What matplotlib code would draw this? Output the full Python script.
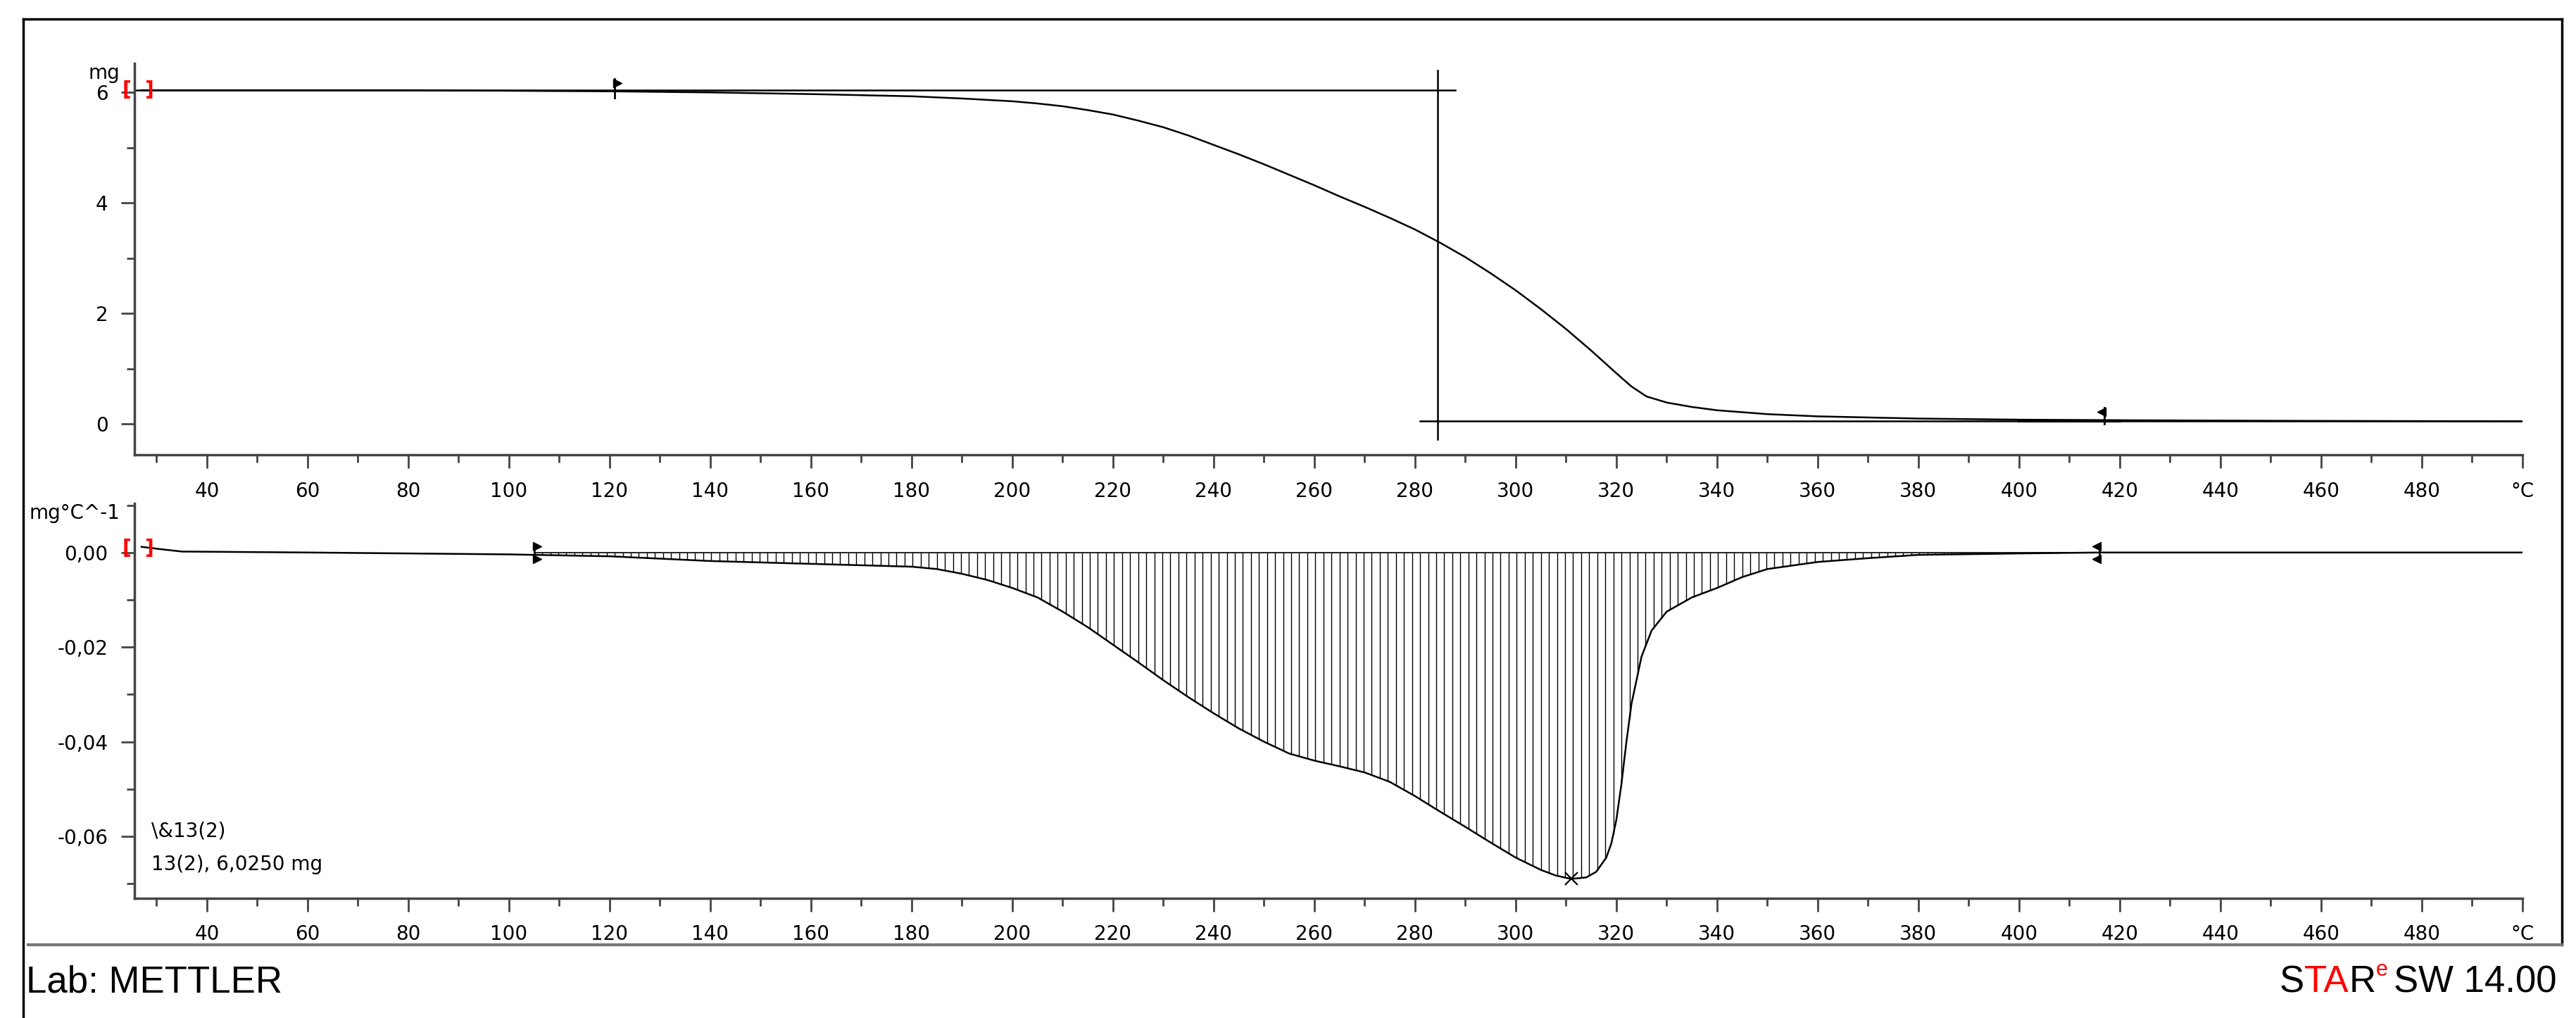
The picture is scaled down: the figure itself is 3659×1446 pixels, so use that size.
import numpy as np
import matplotlib.pyplot as plt
from matplotlib.ticker import MultipleLocator, FixedLocator, FuncFormatter
from matplotlib.lines import Line2D

# TGA curve (mg) vs temperature (°C)
tga_t = [27, 40, 60, 80, 100, 120, 140, 160, 180, 190, 200, 205, 210, 215, 220, 225, 230, 235, 240,
         245, 250, 255, 260, 265, 270, 275, 280, 285, 290, 295, 300, 305, 310, 315, 320, 323, 326,
         330, 335, 340, 350, 360, 380, 400, 420, 450, 500]
tga_m = [6.04, 6.04, 6.04, 6.04, 6.03, 6.02, 6.0, 5.97, 5.93, 5.89, 5.84, 5.80, 5.75, 5.68, 5.6,
         5.49, 5.37, 5.22, 5.05, 4.88, 4.7, 4.51, 4.32, 4.12, 3.93, 3.73, 3.52, 3.28, 3.02, 2.73,
         2.42, 2.08, 1.72, 1.33, 0.92, 0.68, 0.50, 0.39, 0.31, 0.25, 0.18, 0.14, 0.10, 0.08, 0.07,
         0.06, 0.05]

# DTG curve (mg/°C)
dtg_t = [27, 30, 35, 60, 100, 105, 120, 140, 160, 180, 185, 190, 195, 200, 205, 210, 215, 220, 225,
         230, 235, 240, 245, 250, 255, 260, 265, 270, 275, 280, 285, 290, 295, 300, 305, 308, 311,
         314, 316, 318, 319, 320, 321, 322, 323, 325, 327, 330, 335, 340, 345, 350, 360, 370, 380,
         400, 416, 450, 500]
dtg_v = [0.0012, 0.0008, 0.0002, 0.0, -0.0004, -0.0005, -0.0008, -0.0018, -0.0024, -0.003, -0.0035,
         -0.0045, -0.0058, -0.0075, -0.0095, -0.0125, -0.0158, -0.0195, -0.0232, -0.027, -0.0306,
         -0.034, -0.0372, -0.040, -0.0425, -0.0440, -0.0452, -0.0465, -0.0485, -0.0515, -0.0548,
         -0.058, -0.0613, -0.0645, -0.0671, -0.0683, -0.069, -0.0687, -0.0675, -0.0645, -0.0615,
         -0.0565, -0.049, -0.040, -0.032, -0.022, -0.0165, -0.0125, -0.0095, -0.0075, -0.0052,
         -0.0035, -0.0020, -0.0012, -0.0005, -0.0002, 0.0, 0.0, 0.0]

int_lo, int_hi = 105, 416
onset_x = 284.5
peak_x, peak_v = 311, -0.069

fig = plt.figure(figsize=(36.59, 14.46), dpi=100)
plt.rcParams['font.family'] = ['DejaVu Sans']
fs = 20
axcol = '#444444'

# outer frame
fig.add_artist(Line2D([0.009, 0.009], [0.0, 0.981], transform=fig.transFigure, color='black', lw=2.5))
fig.add_artist(Line2D([0.009, 0.9945], [0.981, 0.981], transform=fig.transFigure, color='black', lw=2.5))
fig.add_artist(Line2D([0.9945, 0.9945], [0.072, 0.981], transform=fig.transFigure, color='black', lw=2.5))
fig.add_artist(Line2D([0.011, 0.9945], [0.072, 0.072], transform=fig.transFigure, color='#777777', lw=3))

ax1 = fig.add_axes([0.0522, 0.553, 0.927, 0.385])
ax2 = fig.add_axes([0.0522, 0.1176, 0.927, 0.388])

def xlab(v, pos):
    if abs(v - 500) < 1e-6:
        return '°C'
    return '%d' % v

for ax in (ax1, ax2):
    ax.set_xlim(25.6, 500)
    for s in ('top', 'right'):
        ax.spines[s].set_visible(False)
    for s in ('left', 'bottom'):
        ax.spines[s].set_color(axcol)
        ax.spines[s].set_linewidth(2.5)
    ax.xaxis.set_major_locator(FixedLocator(list(range(40, 481, 20)) + [500]))
    ax.xaxis.set_minor_locator(MultipleLocator(10))
    ax.xaxis.set_major_formatter(FuncFormatter(xlab))
    ax.tick_params(which='major', length=14, width=2, color=axcol, labelsize=fs, pad=13)
    ax.tick_params(which='minor', length=8, width=2, color=axcol)

# TGA panel
ax1.set_ylim(-0.56, 6.53)
ax1.yaxis.set_major_locator(MultipleLocator(2))
ax1.yaxis.set_minor_locator(MultipleLocator(1))
ax1.plot(tga_t, tga_m, color='black', lw=1.8)
ax1.plot([25.6, 288], [6.04, 6.04], color='black', lw=1.8)
ax1.plot([281, 500], [0.06, 0.06], color='black', lw=1.8)
ax1.plot([onset_x, onset_x], [-0.27, 6.4], color='black', lw=1.8)
ax1.plot([121, 121], [5.9, 6.25], color='black', lw=2)
ax1.plot([121.6], [6.17], marker='>', color='black', ms=8)
ax1.plot([417, 417], [0.0, 0.3], color='black', lw=2)
ax1.plot([416.4], [0.22], marker='<', color='black', ms=8)
ax1.plot([400, 420], [0.05, 0.05], color='black', lw=3)
ax1.text(26.4, 6.04, '[  ]', color='red', fontsize=fs, fontweight='bold', va='center', ha='center')
ax1.text(-0.006, 1.0, 'mg', transform=ax1.transAxes, fontsize=fs, ha='right', va='top')

# DTG panel
ax2.set_ylim(-0.0731, 0.0104)
ax2.yaxis.set_major_locator(MultipleLocator(0.02))
ax2.yaxis.set_minor_locator(MultipleLocator(0.01))
ax2.yaxis.set_major_formatter(FuncFormatter(lambda v, p: ('%.2f' % v).replace('.', ',').replace('-0,00', '0,00')))
ax2.plot(dtg_t, dtg_v, color='black', lw=1.8)
hx = np.arange(int_lo, int_hi, 1.6)
hy = np.interp(hx, dtg_t, dtg_v)
ax2.vlines(hx, hy, 0, color='black', lw=1.0)
ax2.plot([int_lo, int_hi], [0, 0], color='black', lw=1.2)
ax2.plot([peak_x], [peak_v], marker='x', color='black', ms=13, mew=1.6)
for xm in (int_lo, int_hi):
    ax2.plot([xm, xm], [-0.0018, 0.0018], color='black', lw=1.8)
    mk = '>' if xm == int_lo else '<'
    dx = 0.6 if xm == int_lo else -0.6
    ax2.plot([xm + dx], [0.0013], marker=mk, color='black', ms=8)
    ax2.plot([xm + dx], [-0.0013], marker=mk, color='black', ms=8)
ax2.text(26.4, 0.0009, '[  ]', color='red', fontsize=fs, fontweight='bold', va='center', ha='center')
ax2.text(-0.006, 1.0, 'mg°C^-1', transform=ax2.transAxes, fontsize=fs, ha='right', va='top')
ax2.text(0.007, 0.145, '\\&13(2)', transform=ax2.transAxes, fontsize=fs, ha='left', va='bottom')
ax2.text(0.007, 0.06, '13(2), 6,0250 mg', transform=ax2.transAxes, fontsize=fs, ha='left', va='bottom')

# footer
fig.text(0.010, 0.035, 'Lab: METTLER', fontsize=38, ha='left', va='center', family='Liberation Sans')
fig.canvas.draw()
r = fig.canvas.get_renderer()
x = 0.9925
for s, col, size, yy in [('SW 14.00', 'black', 38, 0.035), ('e ', 'red', 22, 0.047),
                         ('R', 'black', 38, 0.035), ('TA', 'red', 38, 0.035), ('S', 'black', 38, 0.035)]:
    t = fig.text(x, yy, s, fontsize=size, ha='right', va='center', color=col, family='Liberation Sans')
    w = t.get_window_extent(r).width / fig.bbox.width
    x -= w

fig.savefig('out.png', dpi=100)
